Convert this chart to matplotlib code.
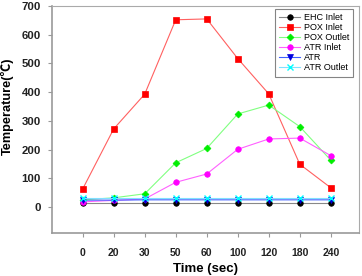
import matplotlib
matplotlib.use("Agg")
import matplotlib.pyplot as plt

plt.rcParams['font.family'] = ['Liberation Sans', 'DejaVu Sans']

categories = ["0", "20", "30", "50", "60", "100", "120", "180", "240"]
ehc_inlet = [15, 15, 15, 15, 15, 15, 15, 15, 15]
pox_inlet = [63, 272, 393, 652, 655, 517, 394, 149, 67]
pox_outlet = [25, 32, 46, 154, 204, 324, 355, 280, 163]
atr_inlet = [18, 23, 28, 86, 115, 201, 237, 240, 179]
atr = [24, 24, 25, 25, 25, 25, 25, 25, 25]
atr_outlet = [30, 30, 30, 30, 30, 30, 30, 30, 30]

yticks = [0, 100, 200, 300, 400, 500, 600, 700]

W, H = 362, 276
fig = plt.figure(figsize=(W/100, H/100), dpi=100)
L, R, T, B = 52, 359, 6, 233
ax = fig.add_axes([L/W, 1-B/H, (R-L)/W, (B-T)/H])

x = list(range(len(categories)))
series = [
    ("EHC Inlet", ehc_inlet, "#888888", "black", "o"),
    ("POX Inlet", pox_inlet, "#ff6060", "red", "s"),
    ("POX Outlet", pox_outlet, "#80ff80", "#00ee00", "D"),
    ("ATR Inlet", atr_inlet, "#ff60ff", "magenta", "o"),
    ("ATR", atr, "#4060ff", "#0000dd", "v"),
    ("ATR Outlet", atr_outlet, "#80e0ff", "cyan", "x"),
]
for name, vals, lc, mc, m in series:
    ms = 4 if m != "D" else 3.5
    ax.plot(x, vals, color=lc, lw=0.8, marker=m, markersize=ms,
            markerfacecolor=mc, markeredgecolor=mc, mew=1.0 if m == "x" else 0.5,
            label=name)

ax.set_xlim(-0.99, 8.91)
ax.set_ylim(-90.5, 700)
ax.set_xticks(x)
ax.set_xticklabels(categories)
ax.set_yticks(yticks)
for lab in ax.get_xticklabels():
    lab.set_fontweight('bold')
    lab.set_fontsize(7.5)
    lab.set_color('#222222')
for lab in ax.get_yticklabels():
    lab.set_fontweight('bold')
    lab.set_fontsize(8.2)
    lab.set_color('#222222')
ax.tick_params(axis='both', length=3, width=0.8, color='#999999')
ax.tick_params(axis='x', pad=8)
ax.tick_params(axis='y', pad=5)
for s in ax.spines.values():
    s.set_color('#aaaaaa')
    s.set_linewidth(0.8)
ax.spines['left'].set_linewidth(1.2)
ax.spines['bottom'].set_linewidth(1.2)
ax.spines['left'].set_color('#999999')
ax.spines['bottom'].set_color('#999999')

ax.set_xlabel("Time (sec)", fontsize=9.5, fontweight='bold')
ax.xaxis.set_label_coords(0.5, (B-263)/(B-T))
ax.set_ylabel("Temperature(℃)", fontsize=9.2, fontweight='bold',
              family=['Liberation Sans', 'Noto Sans CJK SC'])
ax.yaxis.set_label_coords((14-L)/(R-L), (B-106)/(B-T))

leg = ax.legend(loc='upper right', bbox_to_anchor=(353/W, 1-9/H),
                bbox_transform=fig.transFigure, borderaxespad=0,
                prop={'size': 6.5},
                frameon=True, fancybox=False, edgecolor='#666666',
                handlelength=2.3, labelspacing=0.12, borderpad=0.45,
                handletextpad=0.4)
leg.get_frame().set_linewidth(0.8)

fig.savefig("out.png", dpi=100)
